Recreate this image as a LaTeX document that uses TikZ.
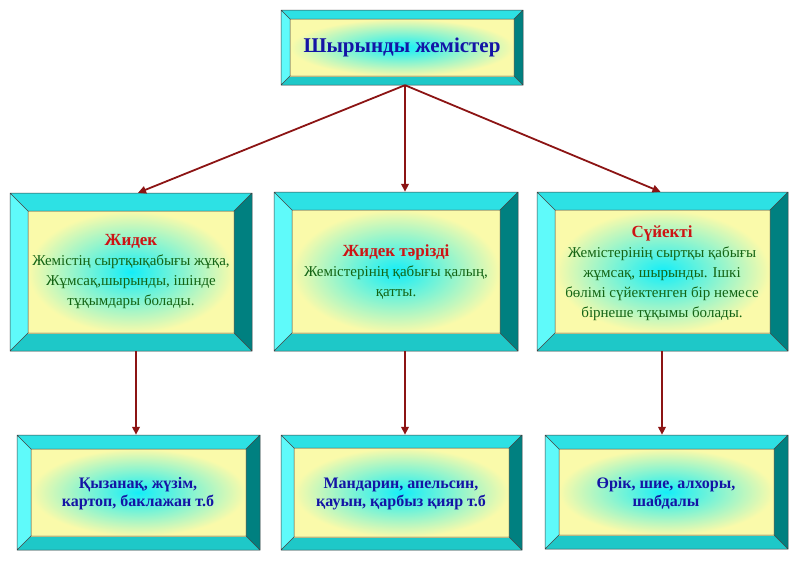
\documentclass[tikz,border=0pt]{standalone}
\usepackage{fontspec}
\setmainfont{Liberation Serif}
\usetikzlibrary{arrows.meta,calc}
\definecolor{bvtop}{RGB}{45,225,228}
\definecolor{bvleft}{RGB}{95,250,250}
\definecolor{bvbot}{RGB}{30,200,200}
\definecolor{bvright}{RGB}{0,128,128}
\definecolor{shc}{RGB}{20,238,248}
\definecolor{shy}{RGB}{250,250,170}
\definecolor{arrred}{RGB}{140,20,20}
\definecolor{tblue}{RGB}{20,20,165}
\definecolor{tred}{RGB}{205,20,20}
\definecolor{tgreen}{RGB}{20,100,20}
\newcommand\bevbox[6]{%
  \fill[bvtop] (#2,#3) -- (#4,#3) -- ({#4-#6},{#3+#6}) -- ({#2+#6},{#3+#6}) -- cycle;
  \fill[bvright] (#4,#3) -- (#4,#5) -- ({#4-#6},{#5-#6}) -- ({#4-#6},{#3+#6}) -- cycle;
  \fill[bvbot] (#4,#5) -- (#2,#5) -- ({#2+#6},{#5-#6}) -- ({#4-#6},{#5-#6}) -- cycle;
  \fill[bvleft] (#2,#5) -- (#2,#3) -- ({#2+#6},{#3+#6}) -- ({#2+#6},{#5-#6}) -- cycle;
  \shade[inner color=shc, outer color=shy] ({#2+#6},{#3+#6}) rectangle ({#4-#6},{#5-#6});
  \draw[bvline] (#2,#3) rectangle (#4,#5) ({#2+#6},{#3+#6}) rectangle ({#4-#6},{#5-#6})
     (#2,#3) -- ({#2+#6},{#3+#6}) (#4,#3) -- ({#4-#6},{#3+#6})
     (#4,#5) -- ({#4-#6},{#5-#6}) (#2,#5) -- ({#2+#6},{#5-#6});
  \node[inner sep=0pt, minimum width={(#4-#2)*1pt}, minimum height={(#5-#3)*1pt}] (#1) at ({(#2+#4)/2},{(#3+#5)/2}) {};
}
\tikzset{
  bvline/.style={draw=black!75, line width=0.5pt},
  arr/.style={draw=arrred, line width=1.8pt, -{Triangle[length=8pt,width=7.5pt]}},
  toptext/.style={font=\fontsize{21}{26}\selectfont\bfseries, text=tblue, align=center},
  midtext/.style={font=\fontsize{15}{20}\selectfont, text=tgreen, align=center},
  bottext/.style={font=\fontsize{16}{18}\selectfont\bfseries, text=tblue, align=center}
}
\begin{document}
\begin{tikzpicture}[x=1pt,y=-1pt]
\fill[white] (0,0) rectangle (800,565);
\useasboundingbox (0,0) rectangle (800,565);
\bevbox{top}{281}{10}{523}{85}{9}
\bevbox{m1}{10}{193}{252}{351}{18}
\bevbox{m2}{274}{192}{518}{351}{18}
\bevbox{m3}{537}{192}{788}{351}{18}
\bevbox{b1}{17}{435}{260}{550}{14}
\bevbox{b2}{281}{435}{522}{550}{13}
\bevbox{b3}{545}{435}{788}{549}{14}
\node[toptext] (ttop) at (402,47) {Шырынды жемістер};
\node[midtext] (tm1) at (131,272) {{\color{tred}\bfseries\fontsize{17}{20}\selectfont Жидек}\\Жемістің сыртқықабығы жұқа,\\Жұмсақ,шырынды, ішінде\\тұқымдары болады.};
\node[midtext] (tm2) at (396,272) {{\color{tred}\bfseries\fontsize{17}{20}\selectfont Жидек тәрізді}\\Жемістерінің қабығы қалың,\\қатты.};
\node[midtext] (tm3) at (662,273) {{\color{tred}\bfseries\fontsize{17}{20}\selectfont Сүйекті}\\Жемістерінің сыртқы қабығы\\жұмсақ, шырынды. Ішкі\\бөлімі сүйектенген бір немесе\\бірнеше тұқымы болады.};
\node[bottext] (tb1) at (138,494) {Қызанақ, жүзім,\\картоп, баклажан т.б};
\node[bottext] (tb2) at (401,494) {Мандарин, апельсин,\\қауын, қарбыз қияр т.б};
\node[bottext] (tb3) at (666,493) {Өрік, шие, алхоры,\\шабдалы};
\coordinate (c1) at (136,0);
\coordinate (c2) at (405,0);
\coordinate (c3) at (662,0);
\draw[arr] ([xshift=3pt]top.south) -- ([xshift=7pt]m1.north);
\draw[arr] ([xshift=3pt]top.south) -- (m2.north -| c2);
\draw[arr] ([xshift=3pt]top.south) -- ([xshift=-2pt]m3.north);
\draw[arr] (m1.south -| c1) -- (b1.north -| c1);
\draw[arr] (m2.south -| c2) -- (b2.north -| c2);
\draw[arr] (m3.south -| c3) -- (b3.north -| c3);
\end{tikzpicture}
\end{document}
